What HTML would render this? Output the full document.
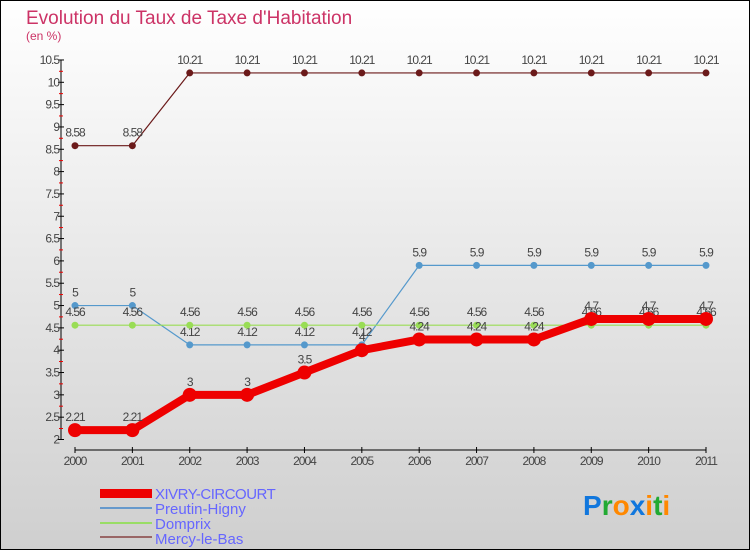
<!DOCTYPE html>
<html><head><meta charset="utf-8"><style>
body{margin:0;width:750px;height:550px;overflow:hidden;font-family:"Liberation Sans",sans-serif}
svg text{font-family:"Liberation Sans",sans-serif}
</style></head><body>
<svg id="c" width="750" height="550" xmlns="http://www.w3.org/2000/svg">
<defs><linearGradient id="bg" x1="0" y1="0" x2="0" y2="1"><stop offset="0" stop-color="#ffffff"/><stop offset="1" stop-color="#cfcfcf"/></linearGradient></defs>
<rect x="0.5" y="0.5" width="749" height="549" fill="url(#bg)" stroke="#000"/>
<text x="26" y="24" font-size="19" fill="#cc3366">Evolution du Taux de Taxe d'Habitation</text>
<text x="26" y="40" font-size="12" fill="#cc3366">(en %)</text>
<g id="axes"></g><g id="series"></g>
<g font-size="15" fill="#6666ff">
<rect x="100" y="489" width="52" height="9" fill="#ee0000"/>
<text x="155" y="499" fill="#6666ff" letter-spacing="-0.5">XIVRY-CIRCOURT</text>
<line x1="100" y1="508" x2="152" y2="508" stroke="#6699cc" stroke-width="2"/>
<text x="155" y="514" fill="#6666ff">Preutin-Higny</text>
<line x1="100" y1="523" x2="152" y2="523" stroke="#99dd66" stroke-width="2"/>
<text x="155" y="529" fill="#6666ff">Domprix</text>
<line x1="100" y1="537" x2="152" y2="537" stroke="#996666" stroke-width="2"/>
<text x="155" y="544" fill="#6666ff">Mercy-le-Bas</text>
</g>
<text x="583" y="515" font-size="28" font-weight="bold"><tspan fill="#1177dd">P</tspan><tspan fill="#22aa33">r</tspan><tspan fill="#ff8800">o</tspan><tspan fill="#1177dd">x</tspan><tspan fill="#ff8800">i</tspan><tspan fill="#22aa33">t</tspan><tspan fill="#ff8800">i</tspan></text>
</svg>
<script>
const years=[2000,2001,2002,2003,2004,2005,2006,2007,2008,2009,2010,2011];
const yTicks=[2,2.5,3,3.5,4,4.5,5,5.5,6,6.5,7,7.5,8,8.5,9,9.5,10,10.5];
const mercy=[8.58,8.58,10.21,10.21,10.21,10.21,10.21,10.21,10.21,10.21,10.21,10.21];
const preutin=[5,5,4.12,4.12,4.12,4.12,5.9,5.9,5.9,5.9,5.9,5.9];
const domprix=[4.56,4.56,4.56,4.56,4.56,4.56,4.56,4.56,4.56,4.56,4.56,4.56];
const xivry=[2.21,2.21,3,3,3.5,4,4.24,4.24,4.24,4.7,4.7,4.7];
const NS="http://www.w3.org/2000/svg";
const X=i=>75+i*(706-75)/(years.length-1);
const Y=v=>439.5-(v-2)*44.65;
function el(t,a,p){const e=document.createElementNS(NS,t);for(const k in a)e.setAttribute(k,a[k]);p.appendChild(e);return e;}
const ax=document.getElementById('axes');
let yl=el('line',{x1:61,y1:Y(10.5),x2:61,y2:Y(2),stroke:'#000'},ax);


let xl=el('line',{x1:75,y1:450,x2:706,y2:450,stroke:'#000'},ax);


yTicks.forEach((v,k)=>{
 el('line',{x1:58,y1:Y(v),x2:64,y2:Y(v),stroke:'#000'},ax);
 if(k<yTicks.length-1) el('line',{x1:59,y1:Y(v)-11,x2:63,y2:Y(v)-11,stroke:'#e00'},ax);
 const t=el('text',{x:59,y:Y(v)+4,'font-size':12,'text-anchor':'end',fill:'#444','letter-spacing':'-1'},ax);
 
 
 t.textContent=String(v);
});
years.forEach((y,i)=>{
 el('line',{x1:X(i),y1:447,x2:X(i),y2:453,stroke:'#000'},ax);
 const t=el('text',{x:X(i),y:465,'font-size':12,'text-anchor':'middle',fill:'#444','letter-spacing':'-1'},ax);
 
 
 t.textContent=y;
});
const sg=document.getElementById('series');
function series(name,vals,color,w,r){
 const g=el('g',{},sg);
 
 
 el('polyline',{points:vals.map((v,i)=>X(i)+','+Y(v)).join(' '),fill:'none',stroke:color,'stroke-width':w,'stroke-linejoin':'round'},g);
 vals.forEach((v,i)=>{
  const c=el('circle',{cx:X(i),cy:Y(v),r:r,fill:color},g);
  
  
  const t=el('text',{x:X(i),y:Y(v)-9,'font-size':12,'text-anchor':'middle',fill:'#444','letter-spacing':'-1'},g);
  
  
  t.textContent=String(v);
 });
}
series('mercy',mercy,'#6b1a1a',1.2,3.5);
series('preutin',preutin,'#5599cc',1.2,3.5);
series('domprix',domprix,'#99dd55',1.2,3.5);
series('xivry',xivry,'#ee0000',8,7);
</script>
</body></html>
